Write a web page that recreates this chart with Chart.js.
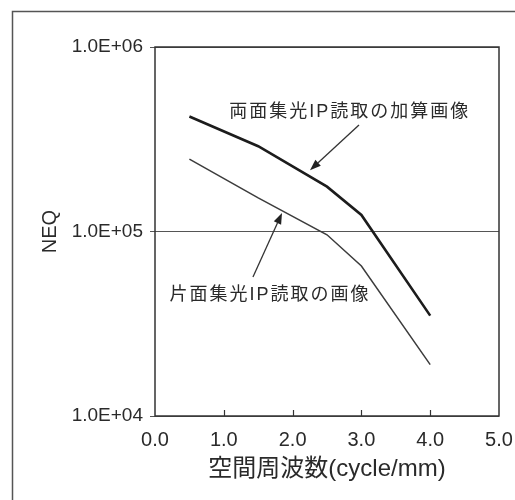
<!DOCTYPE html>
<html>
<head>
<meta charset="utf-8">
<script src="https://cdn.jsdelivr.net/npm/chart.js@4.4.1/dist/chart.umd.min.js"></script>
<style>
  html, body { margin: 0; padding: 0; background: #ffffff; }
  #wrap { width: 515px; height: 500px; position: relative; }
</style>
</head>
<body>
<div id="wrap"><canvas id="c" width="515" height="500"></canvas></div>
<script>
// ---- data ----
const freqs = [0.5, 1.5, 2.5, 3.0, 4.0];
const doubleSideNEQ = [420000, 290000, 175000, 123000, 35000];
const singleSideNEQ = [247000, 152000, 96000, 65000, 19000];
const yTickValues = [10000, 100000, 1000000];
const yTickLabels = ['1.0E+04', '1.0E+05', '1.0E+06'];
const xTickLabels = ['0.0', '1.0', '2.0', '3.0', '4.0', '5.0'];
const labelDouble = '両面集光IP読取の加算画像';
const labelSingle = '片面集光IP読取の画像';
const xTitle = '空間周波数(cycle/mm)';
const yTitle = 'NEQ';
// annotation anchors in data coordinates [x, y]
const annDoubleText = [2.83, 444000];
const annDoubleArrow = [[2.965, 378000], [2.253, 215000]];
const annSingleText = [1.67, 45300];
const annSingleArrow = [[1.424, 56700], [1.846, 126000]];

const FONT = "'Liberation Sans', Arial, 'Noto Sans CJK JP', sans-serif";
const INK = '#2a2a2a';

const framePlugin = {
  id: 'frame',
  beforeDraw(chart) {
    const ctx = chart.ctx;
    ctx.save();
    ctx.fillStyle = '#ffffff';
    ctx.fillRect(0, 0, chart.width, chart.height);
    ctx.strokeStyle = '#555';
    ctx.lineWidth = 1.5;
    ctx.strokeRect(12.5, 11.5, 700, 700);
    ctx.restore();
  },
  afterDatasetsDraw(chart) {
    const ctx = chart.ctx;
    const xs = chart.scales.x, ys = chart.scales.y;
    const a = chart.chartArea;
    ctx.save();
    // plot border
    ctx.strokeStyle = '#333';
    ctx.lineWidth = 1.5;
    ctx.strokeRect(a.left, a.top, a.right - a.left, a.bottom - a.top);
    // inner ticks on x axis
    ctx.lineWidth = 1.2;
    xs.ticks.forEach(t => {
      if (t.value <= xs.min || t.value >= xs.max) return;
      const px = Math.round(xs.getPixelForValue(t.value)) + 0.5;
      ctx.beginPath();
      ctx.moveTo(px, a.bottom);
      ctx.lineTo(px, a.bottom - 6);
      ctx.stroke();
    });
    // arrows
    const P = (p) => [xs.getPixelForValue(p[0]), ys.getPixelForValue(p[1])];
    function arrow(seg) {
      const [x0, y0] = P(seg[0]);
      const [x1, y1] = P(seg[1]);
      const ang = Math.atan2(y1 - y0, x1 - x0);
      const L = 11, W = 4;
      const bx = x1 - L * Math.cos(ang), by = y1 - L * Math.sin(ang);
      ctx.strokeStyle = '#333';
      ctx.fillStyle = '#222';
      ctx.lineWidth = 1.3;
      ctx.beginPath();
      ctx.moveTo(x0, y0);
      ctx.lineTo(bx, by);
      ctx.stroke();
      ctx.beginPath();
      ctx.moveTo(x1, y1);
      ctx.lineTo(bx + W * Math.sin(ang), by - W * Math.cos(ang));
      ctx.lineTo(bx - W * Math.sin(ang), by + W * Math.cos(ang));
      ctx.closePath();
      ctx.fill();
    }
    arrow(annDoubleArrow);
    arrow(annSingleArrow);
    // texts
    ctx.fillStyle = INK;
    ctx.font = "18px " + FONT;
    ctx.textAlign = 'center';
    ctx.textBaseline = 'middle';
    try { ctx.letterSpacing = '2px'; } catch (e) {}
    let p = P(annDoubleText);
    ctx.fillText(labelDouble, p[0], p[1]);
    p = P(annSingleText);
    ctx.fillText(labelSingle, p[0], p[1]);
    ctx.restore();
  }
};

new Chart(document.getElementById('c'), {
  type: 'line',
  data: {
    datasets: [
      {
        label: labelDouble,
        data: freqs.map((x, i) => ({ x, y: doubleSideNEQ[i] })),
        borderColor: '#1c1c1c',
        borderWidth: 2.6,
        pointRadius: 0,
        tension: 0,
        fill: false
      },
      {
        label: labelSingle,
        data: freqs.map((x, i) => ({ x, y: singleSideNEQ[i] })),
        borderColor: '#3c3c3c',
        borderWidth: 1.5,
        pointRadius: 0,
        tension: 0,
        fill: false
      }
    ]
  },
  options: {
    responsive: false,
    animation: false,
    devicePixelRatio: 1,
    layout: { padding: { left: 0, right: 16, top: 47, bottom: 0 } },
    plugins: { legend: { display: false }, tooltip: { enabled: false } },
    scales: {
      x: {
        type: 'linear',
        min: 0, max: 5,
        ticks: {
          stepSize: 1,
          color: INK,
          padding: 12,
          maxRotation: 0,
          font: { family: FONT, size: 20 },
          callback: (v, i) => xTickLabels[i]
        },
        grid: { drawOnChartArea: false, drawTicks: false },
        border: { display: false },
        title: {
          display: true, text: xTitle, color: INK,
          font: { family: FONT, size: 24 },
          padding: { top: 0, bottom: 16 }
        },
        afterFit(s) { s.height = 84; s.paddingLeft = 0; s.paddingRight = 0; }
      },
      y: {
        type: 'logarithmic',
        min: 10000, max: 1000000,
        afterBuildTicks(s) { s.ticks = yTickValues.map(v => ({ value: v })); },
        ticks: {
          color: INK,
          padding: 7,
          font: { family: FONT, size: 19 },
          callback: (v) => yTickLabels[yTickValues.indexOf(v)]
        },
        grid: { color: '#555', lineWidth: 1, tickLength: 5, drawTicks: true },
        border: { display: false },
        title: {
          display: true, text: yTitle, color: INK,
          font: { family: FONT, size: 20 },
          padding: { top: 38, bottom: 0 }
        },
        afterFit(s) { s.width = 155; }
      }
    }
  },
  plugins: [framePlugin]
});
</script>
</body>
</html>
